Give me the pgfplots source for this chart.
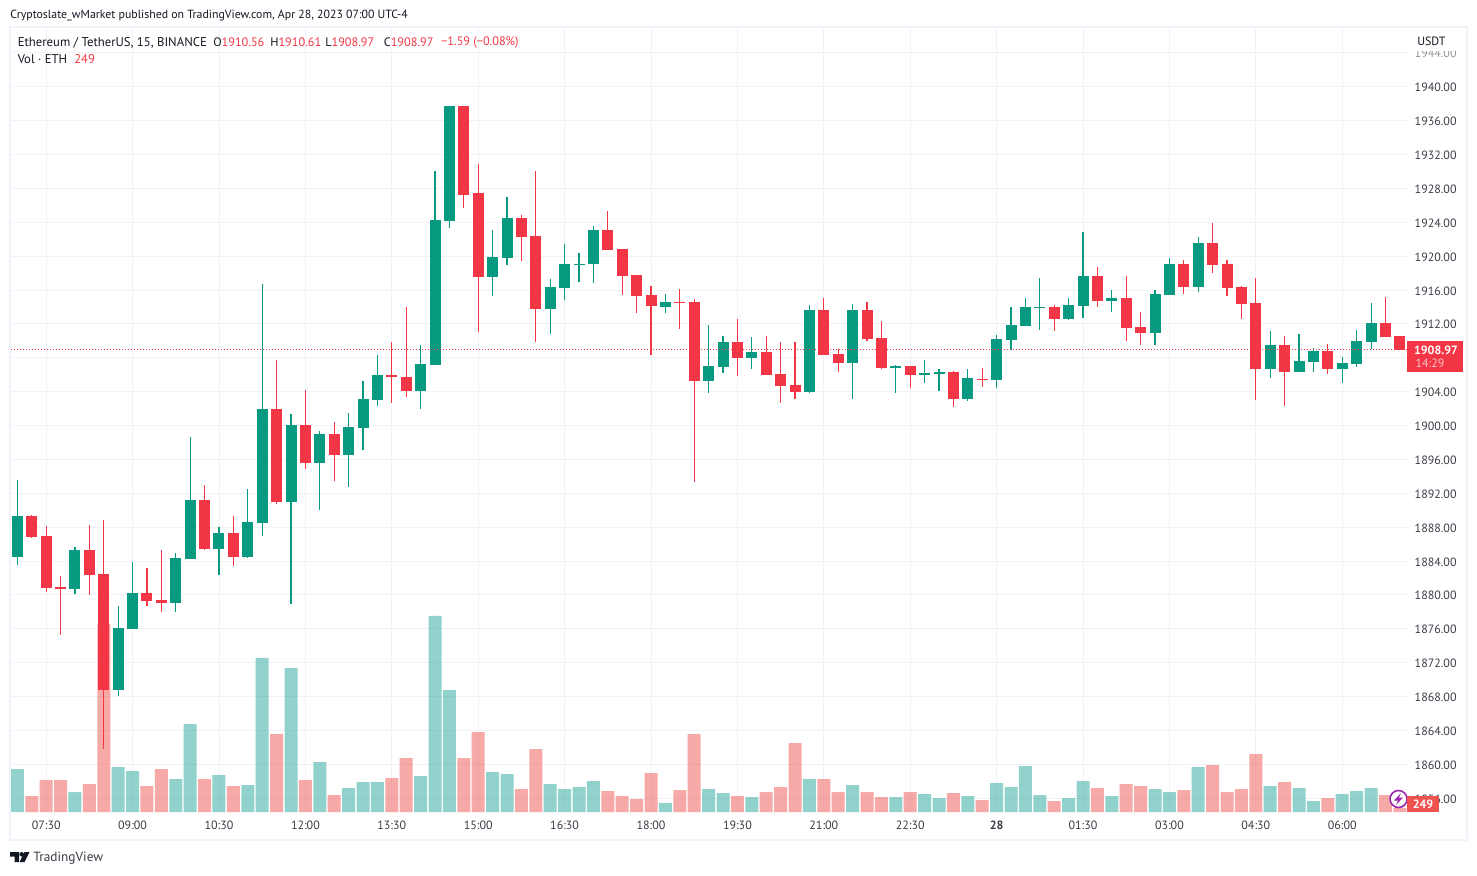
\documentclass[border=0pt]{standalone}
\usepackage{fontspec}
\setmainfont{PT Sans}
\usepackage{pgfplots}
\usepackage{pgfplotstable}
\pgfplotsset{compat=1.18}

\definecolor{upc}{HTML}{089981}
\definecolor{downc}{HTML}{F23645}
\definecolor{volup}{HTML}{26A69A}
\definecolor{voldown}{HTML}{EF5350}
\definecolor{gridc}{HTML}{F1F2F5}
\definecolor{framec}{HTML}{F0F3FA}
\definecolor{textc}{HTML}{131722}
\definecolor{labelc}{HTML}{3A3D47}
\definecolor{boltc}{HTML}{9C27B0}

% columns: candle index, open, high, low, close, volume
\pgfplotstableread{
i o h l c v
0 1884.46 1893.53 1883.59 1889.27 2580
4 1880.75 1885.72 1880.16 1885.36 1200
7 1868.80 1878.74 1868.09 1876.13 2700
8 1876.02 1883.94 1876.02 1880.28 2460
11 1879.09 1885.01 1878.03 1884.42 1980
12 1884.30 1898.62 1884.30 1891.16 5280
14 1885.48 1887.97 1882.41 1887.26 2220
16 1884.54 1892.47 1884.42 1888.56 1620
17 1888.44 1916.75 1887.02 1901.96 9240
19 1890.93 1901.36 1878.97 1900.06 8640
21 1895.54 1899.33 1889.98 1898.97 3000
23 1896.49 1901.48 1892.70 1899.87 1440
24 1899.71 1905.27 1897.10 1903.14 1800
25 1903.02 1908.35 1902.31 1905.98 1800
28 1904.09 1909.53 1901.96 1907.28 2160
29 1907.16 1930.00 1907.16 1924.32 11760
30 1924.20 1937.70 1923.38 1937.70 7320
33 1917.58 1923.14 1915.33 1919.94 2400
34 1919.83 1926.93 1919.00 1924.56 2280
37 1913.79 1917.34 1910.83 1916.39 1680
38 1916.28 1921.48 1914.86 1919.12 1380
39 1919.00 1920.42 1916.99 1919.12 1500
40 1919.07 1923.57 1916.82 1923.09 1860
45 1913.98 1915.52 1913.27 1914.57 540
48 1905.22 1911.85 1903.80 1907.00 1380
49 1906.88 1910.55 1906.17 1909.84 1140
51 1907.94 1910.43 1906.64 1908.65 900
55 1903.92 1914.22 1903.80 1913.63 1980
58 1907.35 1914.34 1903.09 1913.63 1620
61 1906.80 1907.16 1903.84 1907.04 900
63 1905.97 1907.75 1905.03 1906.21 1080
64 1906.09 1906.68 1904.08 1906.33 840
66 1903.13 1906.68 1902.90 1905.62 960
68 1905.38 1910.71 1904.43 1910.23 1740
69 1910.11 1914.02 1908.93 1911.89 1500
70 1911.77 1915.08 1911.77 1914.02 2760
71 1913.90 1917.45 1911.30 1914.02 1020
73 1912.60 1915.08 1912.48 1914.26 840
74 1914.14 1922.90 1912.72 1917.69 1860
76 1914.73 1916.03 1913.43 1915.08 960
79 1910.94 1916.03 1909.52 1915.56 1380
80 1915.44 1919.82 1915.44 1919.11 1200
82 1916.39 1922.30 1915.80 1921.59 2700
87 1906.68 1911.18 1905.62 1909.52 1560
89 1906.33 1910.82 1906.33 1907.63 1440
90 1907.51 1909.17 1906.33 1908.81 660
92 1906.68 1908.10 1905.03 1907.39 1080
93 1907.27 1911.30 1906.92 1910.00 1260
94 1909.88 1914.49 1909.05 1912.13 1440
}\upcandles

\pgfplotstableread{
i o h l c v
1 1889.27 1889.39 1886.78 1886.90 960
2 1887.02 1888.20 1880.39 1880.87 1920
3 1880.99 1882.29 1875.31 1880.75 1920
5 1885.36 1888.32 1880.04 1882.41 1680
6 1882.52 1888.80 1861.81 1868.80 11280
9 1880.28 1883.23 1878.74 1879.33 1560
10 1879.45 1885.36 1878.03 1879.09 2580
13 1891.16 1892.94 1885.36 1885.48 1980
15 1887.26 1889.27 1883.47 1884.54 1560
18 1901.96 1907.76 1890.69 1890.93 4680
20 1900.06 1904.21 1894.83 1895.54 1920
22 1898.97 1900.39 1893.41 1896.49 1020
26 1905.98 1909.89 1902.67 1905.74 2040
27 1905.74 1914.03 1903.38 1904.09 3240
31 1937.70 1937.70 1925.74 1927.28 3240
32 1927.40 1930.83 1911.07 1917.58 4800
35 1924.56 1924.92 1919.47 1922.31 1380
36 1922.43 1930.00 1909.89 1913.79 3780
41 1923.09 1925.34 1920.73 1920.73 1260
42 1920.84 1920.84 1915.40 1917.65 960
43 1917.77 1917.77 1913.27 1915.28 780
44 1915.40 1916.47 1908.30 1914.10 2340
46 1914.57 1916.11 1911.38 1914.45 1320
47 1914.57 1914.93 1893.39 1905.22 4680
50 1909.84 1912.56 1905.81 1907.94 960
52 1908.65 1910.55 1905.93 1905.93 1200
53 1906.05 1909.84 1902.62 1904.63 1500
54 1904.75 1909.84 1903.09 1903.92 4140
56 1913.63 1915.05 1908.30 1908.30 1980
57 1908.42 1909.01 1906.29 1907.35 1200
59 1913.63 1914.57 1909.96 1910.19 1200
60 1910.35 1912.36 1906.68 1906.80 900
62 1907.04 1907.04 1904.43 1905.97 1200
65 1906.33 1906.45 1902.19 1903.13 1140
67 1905.50 1906.80 1904.55 1905.38 720
72 1914.02 1914.26 1911.18 1912.60 660
75 1917.69 1918.75 1914.02 1914.73 1440
77 1915.08 1917.69 1910.00 1911.53 1680
78 1911.65 1913.43 1909.52 1910.94 1560
81 1919.11 1919.58 1915.56 1916.39 1320
83 1921.59 1923.96 1918.04 1918.99 2820
84 1919.11 1919.58 1915.32 1916.27 1200
85 1916.39 1916.51 1912.60 1914.37 1380
86 1914.49 1917.45 1903.01 1906.68 3480
88 1909.52 1910.59 1902.30 1906.33 1800
91 1908.81 1909.64 1906.09 1906.68 840
95 1912.13 1915.20 1910.47 1910.47 1020
96 1910.56 1910.61 1908.97 1908.97 249
}\downcandles

\pgfplotsset{
  pane/.style={
    scale only axis, width=1047pt, height=588pt,
    at={(8.25pt,47.25pt)}, anchor=south west,
    xmin=-0.444, xmax=96.5,
  },
  price/.style={pane, ymin=1854.38, ymax=1946.94},
  wick/.style={draw=none, mark=none, forget plot,
    error bars/.cd, y dir=both, y explicit, error mark=none,
    error bar style={#1, line width=0.8pt}},
  body/.style={draw=none, mark=none, forget plot,
    error bars/.cd, y dir=plus, y explicit, error mark=none,
    error bar style={#1, line width=8.25pt}},
}

\begin{document}
\begin{tikzpicture}
\useasboundingbox (0pt,0pt) rectangle (1107.75pt,656.25pt);

% grid and tick labels
\begin{axis}[price,
  axis line style={draw=none},
  major tick length=0pt,
  grid=major,
  grid style={gridc, line width=0.75pt},
  xtick={2,8,14,20,26,32,38,44,50,56,62,68,74,80,86,92},
  xticklabels={07:30,09:00,10:30,12:00,13:30,15:00,16:30,18:00,19:30,21:00,22:30,\textbf{28},01:30,03:00,04:30,06:00},
  ytick={1856,1860,...,1904,1912,1916,...,1944},
  extra y ticks={1908},
  extra y tick labels={},
  yticklabel pos=right,
  tick label style={font=\fontsize{9}{10}\selectfont, text=labelc},
  yticklabel style={xshift=2.25pt, yshift=-0.6pt, /pgf/number format/.cd, fixed, fixed zerofill, precision=2, 1000 sep={}, assume math mode=true},
  xticklabel style={yshift=-3.25pt},
]
\addplot[draw=none, forget plot] coordinates {(0,1900)};
\end{axis}

% volume pane
\begin{axis}[pane, hide axis, ymin=0, ymax=47040]
\addplot[ybar, bar width=9.75pt, bar shift=0pt, draw=none, fill=volup, fill opacity=0.5] table[x=i, y=v] {\upcandles};
\addplot[ybar, bar width=9.75pt, bar shift=0pt, draw=none, fill=voldown, fill opacity=0.5] table[x=i, y=v] {\downcandles};
\end{axis}

% candles
\begin{axis}[price, hide axis]
\addplot[wick=upc] table[x=i, y=o, y error plus expr=\thisrow{h}-\thisrow{o}, y error minus expr=\thisrow{o}-\thisrow{l}] {\upcandles};
\addplot[body=upc] table[x=i, y=o, y error plus expr=\thisrow{c}-\thisrow{o}] {\upcandles};
\addplot[wick=downc] table[x=i, y=c, y error plus expr=\thisrow{h}-\thisrow{c}, y error minus expr=\thisrow{c}-\thisrow{l}] {\downcandles};
\addplot[body=downc] table[x=i, y=c, y error plus expr=\thisrow{o}-\thisrow{c}] {\downcandles};
\addplot[downc, line width=0.75pt, dash pattern=on 0.75pt off 1.5pt] coordinates {(-0.444,1908.97) (96.5,1908.97)};
\end{axis}

% overlays, in pixels of the reference
\begin{scope}[x=0.75pt, y=-0.75pt, shift={(0pt,656.25pt)}]
\draw[framec, line width=1.5pt] (10,27.5) rectangle (1467,840);
\fill[white] (1408,29) rectangle (1466,51);
\fill[white, opacity=0.45] (1408,51) rectangle (1466,60);
\node[anchor=west, inner sep=0pt, text=textc, font=\fontsize{9}{10}\selectfont] at (1417,41) {USDT};

\node[anchor=west, inner sep=0pt, text=textc, font=\fontsize{8.87}{10}\selectfont] at (10,15.5)
  {Cryptoslate\_wMarket published on TradingView.com, Apr 28, 2023 07:00 UTC-4};
\node[anchor=west, inner sep=0pt, text=textc, font=\fontsize{9.55}{10}\selectfont] at (17.5,42.5)
  {Ethereum / TetherUS, 15, BINANCE};
\foreach \lx/\ll/\lv in {213/O/1910.56, 270/H/1910.61, 325/L/1908.97, 383.5/C/1908.97}
  \node[anchor=west, inner sep=0pt, font=\fontsize{9.2}{10}\selectfont] at (\lx,42.5) {\textcolor{textc}{\ll}\textcolor{downc}{\lv}};
\node[anchor=west, inner sep=0pt, text=downc, font=\fontsize{9.2}{10}\selectfont] at (441,42.5) {−1.59 (−0.08\%)};
\node[anchor=west, inner sep=0pt, text=textc, font=\fontsize{9.5}{10}\selectfont] at (17.5,59) {Vol · ETH};
\node[anchor=west, inner sep=0pt, text=downc, font=\fontsize{9.5}{10}\selectfont] at (74,59) {249};

% last price and volume tags
\fill[downc] (1407,341) rectangle (1463,372.5);
\node[inner sep=0pt, text=white, font=\bfseries\fontsize{9}{10}\selectfont] at (1436,350) {1908.97};
\node[inner sep=0pt, text=white!70!downc, font=\fontsize{9}{10}\selectfont] at (1430,363.5) {14:29};
\draw[fill=white, draw=boltc, line width=1.2pt] (1398.5,799) circle (8.5);
\fill[boltc] (1401,793) -- (1394,800.5) -- (1398,800.5) -- (1396,805) -- (1403,797.5) -- (1399,797.5) -- cycle;
\fill[voldown] (1407,796) rectangle (1439,812);
\node[inner sep=0pt, text=white, font=\bfseries\fontsize{9}{10}\selectfont] at (1423,804.5) {249};

% logo
\fill[textc] (10,852) -- (19,852) -- (19,862) -- (14.5,862) -- (14.5,856.5) -- (10,856.5) -- cycle;
\fill[textc] (21.7,854.3) circle (2.3);
\fill[textc] (24.5,852) -- (29.5,852) -- (24.5,862) -- (19.5,862) -- cycle;
\node[anchor=west, inner sep=0pt, text=labelc, font=\fontsize{10}{12}\selectfont] at (33,858.5) {TradingView};
\end{scope}
\end{tikzpicture}
\end{document}
